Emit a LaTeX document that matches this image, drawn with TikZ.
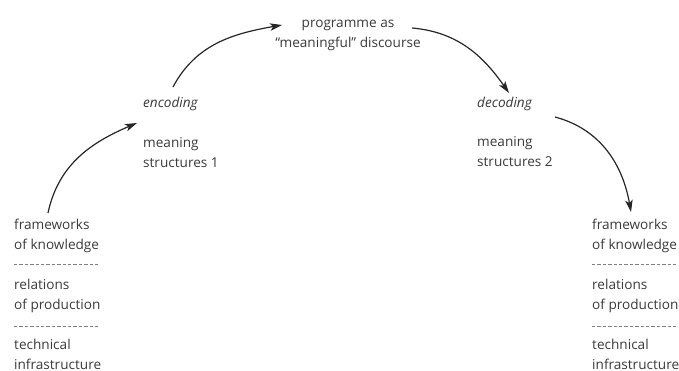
\documentclass[tikz,border=0pt]{standalone}
\usepackage{fontspec}
\setmainfont{Open Sans}
\usetikzlibrary{arrows.meta}
\definecolor{txtgrey}{HTML}{3A3A3A}
\begin{document}
\begin{tikzpicture}[x=1pt, y=1pt,
                    txt/.style={font=\fontsize{13.6}{20}\selectfont, text=txtgrey, inner sep=0pt, align=left, anchor=base west},
                    flow/.style={-{Stealth[length=12pt, width=7.5pt, inset=3pt]}, line width=1.2pt, black!85},
                    sep/.style={dash pattern=on 3.4pt off 2pt, line width=1pt, black!50}]
\useasboundingbox (0,0) rectangle (679,371);

% the two ends of the chain (base anchor = last line)
\foreach \x/\s in {14/1, 592/2} {
    \node[txt] (know\s) at (\x,121) {frameworks\\of knowledge};
    \node[txt] (prod\s) at (\x,61) {relations\\of production};
    \node[txt] (tech\s) at (\x,1) {technical\\infrastructure};
    \draw[sep] (\x,106.5) -- +(86,0);
    \draw[sep] (\x,44.5) -- +(86,0);
}

\node[txt, font=\fontsize{13.6}{20}\selectfont\itshape] (enc) at (143,263) {encoding};
\node[txt] (mean1) at (143,203) {meaning\\structures 1};
\node[txt, font=\fontsize{13.6}{20}\selectfont\itshape] (dec) at (477,263) {decoding};
\node[txt] (mean2) at (477,204) {meaning\\structures 2};
\node[txt, align=center, anchor=base] (prog) at (348,323) {programme as\\``meaningful'' discourse};

% free ends of the arrows
\coordinate (a1s) at (48,158);
\coordinate (a1e) at (137,248);
\coordinate (a2s) at (173,284);
\coordinate (a2e) at (282,346);
\coordinate (a3s) at (412,343);
\coordinate (a3e) at (509,278);
\coordinate (a4s) at (555,254);
\coordinate (a4e) at (631,159);

\draw[flow] (a1s) to[out=78, in=203] (a1e);
\draw[flow] (a2s) to[out=62, in=190] (a2e);
\draw[flow] (a3s) to[out=-5, in=125] (a3e);
\draw[flow] (a4s) to[out=-15, in=100] (a4e);
\end{tikzpicture}
\end{document}
